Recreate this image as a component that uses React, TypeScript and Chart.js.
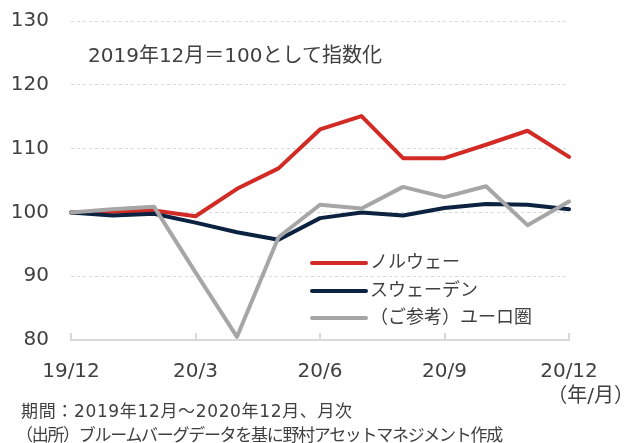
import React, { useEffect, useRef } from 'react';
import { Chart, registerables } from 'chart.js';

Chart.register(...registerables);

const categories = ['19/12', '20/1', '20/2', '20/3', '20/4', '20/5', '20/6', '20/7', '20/8', '20/9', '20/10', '20/11', '20/12'];
const labeledMonths = ['19/12', '20/3', '20/6', '20/9', '20/12'];
const norway = [100, 100.1, 100.3, 99.4, 103.7, 106.9, 113.0, 115.1, 108.5, 108.5, 110.6, 112.8, 108.7];
const sweden = [100, 99.5, 99.8, 98.4, 96.9, 95.7, 99.1, 100.0, 99.5, 100.7, 101.3, 101.2, 100.5];
const euro = [100, 100.5, 100.9, 90.6, 80.5, 96.1, 101.2, 100.6, 104.0, 102.4, 104.1, 98.0, 101.7];
const seriesNames = ['ノルウェー', 'スウェーデン', '（ご参考）ユーロ圏'];
const seriesColors = ['#d22b26', '#0b2240', '#a6a6a6'];
const yMin = 80;
const yMax = 130;
const yStep = 10;

const FONT = "'DejaVu Sans', 'Noto Sans CJK JP', sans-serif";
const TEXT = '#404040';

const decorPlugin = {
  id: 'decor',
  beforeDatasetsDraw(chart: any) {
    const { ctx, chartArea, scales } = chart;
    const x = scales.x;
    ctx.save();
    ctx.strokeStyle = '#d9d9d9';
    ctx.lineWidth = 2;
    categories.forEach((c, i) => {
      if (!labeledMonths.includes(c)) return;
      const px = Math.round(x.getPixelForValue(i));
      ctx.beginPath();
      ctx.moveTo(px, chartArea.bottom);
      ctx.lineTo(px, chartArea.bottom - 7);
      ctx.stroke();
    });
    ctx.restore();
  },
  afterDraw(chart: any) {
    const { ctx, chartArea } = chart;
    ctx.save();
    const left = chartArea.left + 241;
    const rows = [242, 270, 297];
    seriesNames.forEach((name, i) => {
      const y = chartArea.top + rows[i];
      ctx.strokeStyle = seriesColors[i];
      ctx.lineWidth = 4;
      ctx.lineCap = 'round';
      ctx.beginPath();
      ctx.moveTo(left, y);
      ctx.lineTo(left + 54, y);
      ctx.stroke();
      ctx.fillStyle = TEXT;
      ctx.font = `18px ${FONT}`;
      ctx.textBaseline = 'middle';
      ctx.textAlign = 'left';
      ctx.fillText(name, left + 58, y);
    });
    ctx.restore();
  },
};

export default function App() {
  const ref = useRef<HTMLCanvasElement | null>(null);

  useEffect(() => {
    if (!ref.current) return;
    const chart = new Chart(ref.current, {
      type: 'line',
      data: {
        labels: categories,
        datasets: [
          { label: seriesNames[0], data: norway, borderColor: seriesColors[0], order: 3 },
          { label: seriesNames[1], data: sweden, borderColor: seriesColors[1], order: 2 },
          { label: seriesNames[2], data: euro, borderColor: seriesColors[2], order: 1 },
        ],
      },
      options: {
        animation: false,
        responsive: false,
        layout: { padding: { top: 21, right: 66, left: 0, bottom: 0 } },
        plugins: { legend: { display: false }, tooltip: { enabled: false } },
        elements: {
          point: { radius: 0 },
          line: { tension: 0, borderWidth: 4, borderJoinStyle: 'round', borderCapStyle: 'round', fill: false },
        },
        scales: {
          x: {
            type: 'category',
            offset: false,
            grid: { display: false, drawTicks: false },
            border: { display: true, color: '#d9d9d9', width: 2 },
            ticks: {
              autoSkip: false,
              maxRotation: 0,
              padding: 20,
              color: TEXT,
              font: { size: 20, family: FONT },
              callback: (_v: any, i: number) => (labeledMonths.includes(categories[i]) ? categories[i] : ''),
            },
            afterFit: (s: any) => {
              s.height = 103;
            },
          },
          y: {
            min: yMin,
            max: yMax,
            ticks: { stepSize: yStep, padding: 0, color: TEXT, font: { size: 20, family: FONT } },
            grid: {
              color: (c: any) => (c.tick && c.tick.value === yMin ? 'rgba(0,0,0,0)' : '#d9d9d9'),
              drawTicks: true,
              tickLength: 22,
              tickColor: 'rgba(0,0,0,0)',
              lineWidth: 1,
            },
            border: { display: false, dash: [3, 3] },
            afterFit: (s: any) => {
              s.width = 71;
            },
          },
        },
      },
      plugins: [decorPlugin],
    } as any);
    return () => chart.destroy();
  }, []);

  const txt = (extra: React.CSSProperties): React.CSSProperties => ({
    position: 'absolute',
    fontFamily: FONT,
    color: TEXT,
    whiteSpace: 'nowrap',
    ...extra,
  });

  return (
    <div style={{ position: 'absolute', left: 0, top: 0, width: 635, height: 443, background: '#fff', overflow: 'hidden' }}>
      <canvas ref={ref} width={635} height={443} style={{ display: 'block' }} />
      <div style={txt({ left: 88, top: 43, fontSize: 20, lineHeight: '24px' })}>2019年12月＝100として指数化</div>
      <div style={txt({ right: 1, top: 383, fontSize: 20, lineHeight: '24px' })}>（年/月）</div>
      <div style={txt({ left: 21, top: 400, fontSize: 17, lineHeight: '22px', letterSpacing: '0.65px' })}>期間：2019年12月～2020年12月、月次</div>
      <div style={txt({ left: 16, top: 424, fontSize: 17, lineHeight: '22px', letterSpacing: '-1.3px' })}>（出所）ブルームバーグデータを基に野村アセットマネジメント作成</div>
    </div>
  );
}
